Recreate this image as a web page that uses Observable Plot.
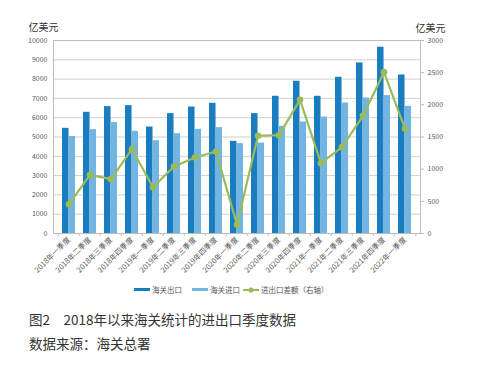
<!DOCTYPE html>
<html><head><meta charset="utf-8">
<script src="https://cdn.jsdelivr.net/npm/d3@7"></script>
<script src="https://cdn.jsdelivr.net/npm/@observablehq/plot@0.6"></script>
<style>
body{margin:0;background:#fff;font-family:"Noto Sans CJK SC","Noto Sans",sans-serif;}
#wrap{width:477px;}
.legend{height:24px;position:relative;font-size:7.5px;color:#555;}
.legend span.item{position:absolute;top:6px;display:flex;align-items:center;white-space:nowrap;}
.sw{display:inline-block;width:16px;height:3px;margin-right:2px;}
.cap{padding-left:29px;color:#333;font-size:13.5px;line-height:24px;font-family:"Noto Sans CJK SC",serif;}
</style></head>
<body><div id="wrap"></div>
<script>
const quarters = ["2018年一季度","2018年二季度","2018年三季度","2018年四季度","2019年一季度","2019年二季度","2019年三季度","2019年四季度","2020年一季度","2020年二季度","2020年三季度","2020年四季度","2021年一季度","2021年二季度","2021年三季度","2021年四季度","2022年一季度"];
const exportsV = [5450,6280,6575,6627,5517,6210,6555,6746,4774,6210,7110,7888,7110,8095,8838,9652,8215];
const importsV = [5030,5380,5745,5293,4810,5173,5397,5485,4655,4686,5553,5776,6036,6762,7021,7145,6590];
const balanceV = [455,912,845,1311,720,1041,1181,1275,135,1518,1528,2078,1093,1342,1829,2508,1627];
const leftTicks = [0,1000,2000,3000,4000,5000,6000,7000,8000,9000,10000];
const rightTicks = [0,500,1000,1500,2000,2500,3000];
const leftMax = 10000, rightMax = 3000;
const k = leftMax / rightMax;

const cExport = "#1a7dc0", cImport = "#72b4e2", cLine = "#9bbb59";
const data = quarters.map((q,i)=>({q, ex: exportsV[i], im: importsV[i], bal: balanceV[i] * k}));

const W = 477, H = 278, mL = 53, mR = 57;
const step = (W - mL - mR) / quarters.length;

const chart = Plot.plot({
  width: W, height: H,
  marginLeft: mL, marginRight: mR, marginTop: 40, marginBottom: H - 233,
  style: {fontFamily: '"Noto Sans CJK SC","Noto Sans",sans-serif', fontSize: "7px", color: "#595959", background: "#fff"},
  x: {domain: quarters, type: "band", paddingInner: 0.4, paddingOuter: 0.2},
  y: {domain: [0, leftMax]},
  marks: [
    Plot.gridY(leftTicks, {stroke: "#d0d0d0", strokeOpacity: 1}),
    Plot.barY(data, {x: "q", y: "ex", fill: cExport, insetRight: step*0.6/2}),
    Plot.barY(data, {x: "q", y: "im", fill: cImport, insetLeft: step*0.6/2}),
    Plot.frame({stroke: "#bdbdbd"}),
    Plot.ruleX(quarters, {x: d => d, y1: 0, y2: -160, dx: -step/2, stroke: "#bdbdbd"}),
    Plot.ruleX(quarters.slice(-1), {x: d => d, y1: 0, y2: -160, dx: step/2, stroke: "#bdbdbd"}),
    Plot.line(data, {x: "q", y: "bal", stroke: cLine, strokeWidth: 2.2}),
    Plot.dot(data, {x: "q", y: "bal", fill: cLine, r: 3.3}),
    Plot.axisY(leftTicks, {anchor: "left", tickSize: 0, tickPadding: 6, label: null, fontSize: 7, tickFormat: d => String(d)}),
    Plot.axisY(rightTicks.map(d => d * k), {anchor: "right", tickSize: 3, tickPadding: 4, stroke: "#bdbdbd", tickFormat: d => String(Math.round(d / k)), label: null, fontSize: 7}),
    Plot.axisX({tickRotate: -45, tickSize: 0, tickPadding: 5, label: null, fontSize: 7.5}),
    Plot.text(["亿美元"], {frameAnchor: "top-left", dx: -25, dy: -17, textAnchor: "start", fontSize: 10, fill: "#333"}),
    Plot.text(["亿美元"], {frameAnchor: "top-right", dx: -5, dy: -16, textAnchor: "start", fontSize: 10, fill: "#333"})
  ]
});

const wrap = document.getElementById("wrap");
wrap.appendChild(chart);

const legend = document.createElement("div");
legend.className = "legend";
legend.innerHTML =
  `<span class="item" style="left:134px"><span class="sw" style="background:${cExport}"></span>海关出口</span>` +
  `<span class="item" style="left:192px"><span class="sw" style="background:${cImport}"></span>海关进口</span>` +
  `<span class="item" style="left:243px"><svg width="16" height="8" style="margin-right:2px"><line x1="0" y1="4" x2="16" y2="4" stroke="${cLine}" stroke-width="2"/><circle cx="8" cy="4" r="2.6" fill="${cLine}"/></svg>进出口差额（右轴）</span>`;
wrap.appendChild(legend);

const cap = document.createElement("div");
cap.className = "cap";
cap.style.marginTop = "5px";
cap.innerHTML = "图2　2018年以来海关统计的进出口季度数据<br>数据来源：海关总署";
wrap.appendChild(cap);
</script>
</body></html>
